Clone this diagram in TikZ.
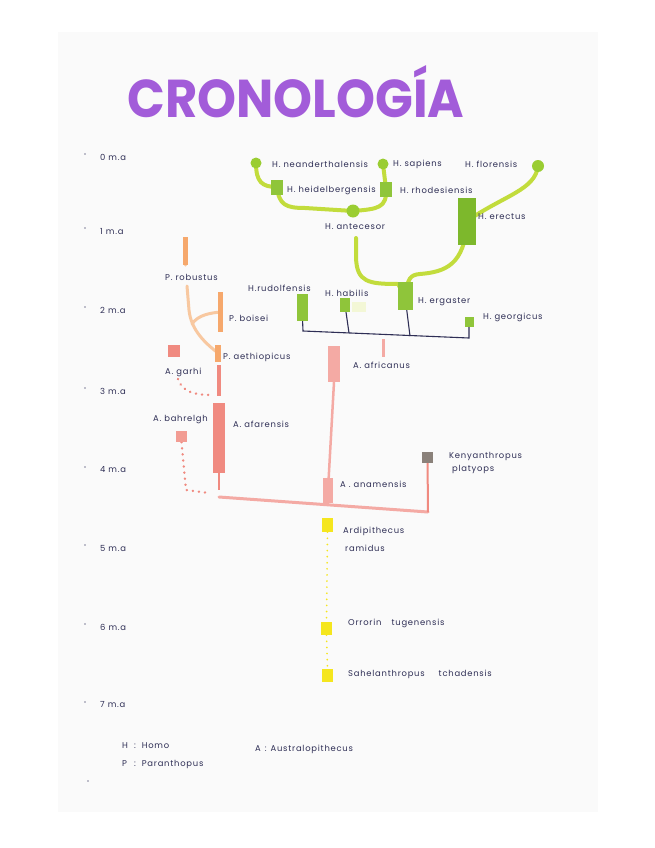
\documentclass[tikz,border=0pt]{standalone}
\usepackage{fontspec}
\setmainfont{Poppins}
\newfontfamily\lblfont{Poppins}[LetterSpace=9]
\usepackage{graphicx}
\pgfdeclarelayer{paper}
\pgfdeclarelayer{edges}
\pgfsetlayers{paper,edges,main}
\definecolor{cBg}{HTML}{FFFFFF}
\definecolor{cPaper}{HTML}{FAFAFA}
\definecolor{cTitle}{HTML}{A25CD9}
\definecolor{cInk}{HTML}{2E2E55}
\definecolor{cLime}{HTML}{C2DC3C}
\definecolor{cGreenSq}{HTML}{8FC53A}
\definecolor{cGreenDk}{HTML}{7DB82C}
\definecolor{cGreenDot}{HTML}{9ACD32}
\definecolor{cPale}{HTML}{F3F7D6}
\definecolor{cPeach}{HTML}{F8C8A0}
\definecolor{cOrange}{HTML}{F6A86C}
\definecolor{cCoral}{HTML}{F08A80}
\definecolor{cPink}{HTML}{F4AAA4}
\definecolor{cYellow}{HTML}{F5E61E}
\definecolor{cKen}{HTML}{8A817A}
\tikzset{
  lbl/.style={anchor=west, text=cInk, font=\lblfont\fontsize{8.4}{10}\selectfont, inner sep=0pt},
  bx/.style 2 args={rectangle, inner sep=0pt, minimum width=#1, minimum height=#2},
  cc/.style={circle, inner sep=0pt, minimum size=#1},
  gl/.style={draw=cLime, line width=4, line cap=round, line join=round},
  nl/.style={draw=cInk, line width=1.1},
  ol/.style={draw=cPeach, line width=3, line cap=round},
  rl/.style={draw=cPink, line width=3, line cap=round},
  rdots/.style={draw=cCoral, line width=2.6, line cap=round, dash pattern=on 0.1pt off 6pt},
  ydots/.style={draw=cYellow, line width=1.8, line cap=round, dash pattern=on 0.1pt off 6pt},
  tick/.style={cc=1.6, fill=cInk!60}
}
\begin{document}
\begin{tikzpicture}[x=1pt,y=-1pt]
\begin{pgfonlayer}{paper}
\fill[cBg] (0,0) rectangle (655,848);
\fill[cPaper] (58,32) rectangle (598,812);
\end{pgfonlayer}
\path[use as bounding box] (0,0) rectangle (655,848);

% title
\node[text=cTitle, inner sep=0pt] (title) at (296,92) {\resizebox{337pt}{52pt}{\bfseries CRONOLOGÍA}};

% time axis
\foreach \n/\yy in {0/157,1/231,2/310,3/391,4/470,5/548,6/627,7/705}{
  \node[tick] (t\n) at (85,\yy-3) {};
  \node[lbl] (m\n) at (100,\yy) {\n\ m.a};
}
\node[tick] (tend) at (88,781) {};

% ---- Homo (green) ----
\node[cc=11, fill=cGreenDot] (nea) at (256,163) {};
\node[cc=11, fill=cGreenDot] (sap) at (383,164) {};
\node[cc=12, fill=cGreenDot] (flo) at (538,166) {};
\node[bx={12}{15}, fill=cGreenSq] (hei) at (277,187) {};
\node[bx={12}{15}, fill=cGreenSq] (rho) at (386,189) {};
\node[cc=13, fill=cGreenDot] (ant) at (353,211) {};
\node[bx={18}{47}, fill=cGreenDk] (ere) at (467,221) {};
\node[bx={15}{28}, fill=cGreenSq] (erg) at (405,296) {};
\node[bx={11}{27}, fill=cGreenSq] (rud) at (302,307) {};
\node[bx={10}{14}, fill=cGreenSq] (hab) at (345,305) {};
\node[bx={14}{10}, fill=cPale] (habp) at (359,307) {};
\node[bx={9}{10}, fill=cGreenSq] (geo) at (469,322) {};

\node[lbl] (lnea) at (272,164) {H. neanderthalensis};
\node[lbl] (lsap) at (393,164) {H. sapiens};
\node[lbl] (lflo) at (465,164) {H. florensis};
\node[lbl] (lhei) at (287,190) {H. heidelbergensis};
\node[lbl] (lrho) at (400,190) {H. rhodesiensis};
\node[lbl] (lant) at (325,227) {H. antecesor};
\node[lbl] (lere) at (478,217) {H. erectus};
\node[lbl] (lrud) at (248,288) {H.rudolfensis};
\node[lbl] (lhab) at (325,293) {H. habilis};
\node[lbl] (lerg) at (418,302) {H. ergaster};
\node[lbl] (lgeo) at (483,317) {H. georgicus};

\coordinate (antlow) at (356,238);
\coordinate (cb1) at (303,331);
\coordinate (cb2) at (349,333);
\coordinate (cb3) at (410,336);
\coordinate (cb4) at (469,338);

% ---- Paranthropus (orange) ----
\node[bx={5}{28}, fill=cOrange] (rob) at (185.5,251) {};
\node[bx={5}{40}, fill=cOrange] (boi) at (220.5,312) {};
\node[bx={6}{17}, fill=cOrange] (aet) at (218,353) {};
\node[lbl] (lrob) at (165,277) {P. robustus};
\node[lbl] (lboi) at (229,318) {P. boisei};
\node[lbl] (laet) at (223,357) {P. aethiopicus};
\coordinate (robl) at (187,286);
\coordinate (brpt) at (192,324);

% ---- Australopithecus (coral) ----
\node[bx={12}{12}, fill=cCoral] (gar) at (174,351) {};
\node[lbl] (lgar) at (165,372) {A. garhi};
\node[bx={11}{11}, fill=cCoral!85] (bah) at (181.5,436.5) {};
\node[lbl, anchor=east] (lbah) at (208,420) {A. bahrelgh};
\node[bx={12}{70}, fill=cCoral] (afa) at (219,438) {};
\node[lbl] (lafa) at (233,424) {A. afarensis};
\node[bx={12}{36}, fill=cPink] (afb) at (334,364) {};
\node[bx={3}{18}, fill=cPink] (afr) at (383,348) {};
\node[lbl] (lafr) at (353,365) {A. africanus};
\node[bx={10}{25}, fill=cPink] (ana) at (328,490) {};
\node[lbl] (lana) at (340,484) {A . anamensis};
\node[bx={11}{11}, fill=cKen] (ken) at (427.5,457.5) {};
\node[lbl] (lken1) at (449,456) {Kenyanthropus};
\node[lbl] (lken2) at (452,469) {platyops};
\coordinate (aettop) at (219,365);
\coordinate (aetbot) at (219,396);
\coordinate (gdot) at (178,379);
\coordinate (gdend) at (212,395);
\coordinate (bdot) at (186,490);
\coordinate (bdend) at (209,493);
\coordinate (afalow) at (219,490);
\coordinate (hl) at (219,497);
\coordinate (hr) at (428,512);
\coordinate (hm) at (328,504);

% ---- Ardipithecus / Orrorin / Sahelanthropus (yellow) ----
\node[bx={11}{14}, fill=cYellow] (ard) at (327.5,525) {};
\node[lbl] (lard1) at (343,531) {Ardipithecus};
\node[lbl] (lard2) at (345,548) {ramidus};
\node[bx={11}{13}, fill=cYellow] (orr) at (326.5,628.5) {};
\node[lbl] (lorr) at (348,623) {Orrorin\hspace{10pt}tugenensis};
\node[bx={11}{13}, fill=cYellow] (sah) at (327.5,675.5) {};
\node[lbl] (lsah) at (348,674) {Sahelanthropus\hspace{14pt}tchadensis};

% legend
\node[lbl] (lgH) at (122,746) {H\hspace{6pt}:\hspace{6pt}Homo};
\node[lbl] (lgP) at (122,764) {P\hspace{7pt}:\hspace{6pt}Paranthopus};
\node[lbl] (lgA) at (255,749) {A\hspace{4pt}:\hspace{4pt}Australopithecus};

\begin{pgfonlayer}{edges}
% green
\draw[gl] (nea.center) .. controls (256,182) and (262,187) .. (hei.center);
\draw[gl] (hei.center) .. controls (279,205) and (286,208) .. (305,208) -- (ant.center);
\draw[gl] (sap.center) -- (rho.center);
\draw[gl] (rho.center) .. controls (387,208) and (378,209) .. (ant.center);
\draw[gl] (flo.center) .. controls (535,190) and (505,195) .. (ere.center);
\draw[gl] (antlow) -- (356,258) .. controls (357,282) and (368,284) .. (398,284) -- (erg.center);
\draw[gl] (ere.center) .. controls (465,265) and (445,272) .. (420,274) .. controls (410,275) and (408,278) .. (erg.center);
% navy
\draw[nl] (rud.center) -- (cb1) -- (cb4) -- (geo.center);
\draw[nl] (hab.center) -- (cb2);
\draw[nl] (erg.center) -- (cb3);
% orange
\draw[ol] (rob.center) -- (rob.south);
\draw[ol] (robl) -- (189,310) .. controls (191,330) and (205,343) .. (aet.center);
\draw[ol] (brpt) .. controls (198,315) and (210,313) .. (boi.center);
% coral
\draw[draw=cCoral, line width=4] (aettop) -- (aetbot);
\draw[rdots] (gdot) .. controls (182,392) and (195,395) .. (gdend);
\draw[rdots] (bah.south) -- (bdot) -- (bdend);
\draw[draw=cCoral, line width=2.5] (afa.south) -- (afalow);
\draw[rl] (hl) -- (hr);
\draw[draw=cCoral, line width=2] (ken.center) -- (hr);
\draw[draw=cPink, line width=2.5] (afb.south) -- (ana.center);
\draw[draw=cPink, line width=2.5] (ana.center) -- (hm);
% yellow
\draw[ydots] (ard.south) -- (orr.north);
\draw[ydots] (orr.south) -- (sah.north);
\end{pgfonlayer}
\end{tikzpicture}
\end{document}
